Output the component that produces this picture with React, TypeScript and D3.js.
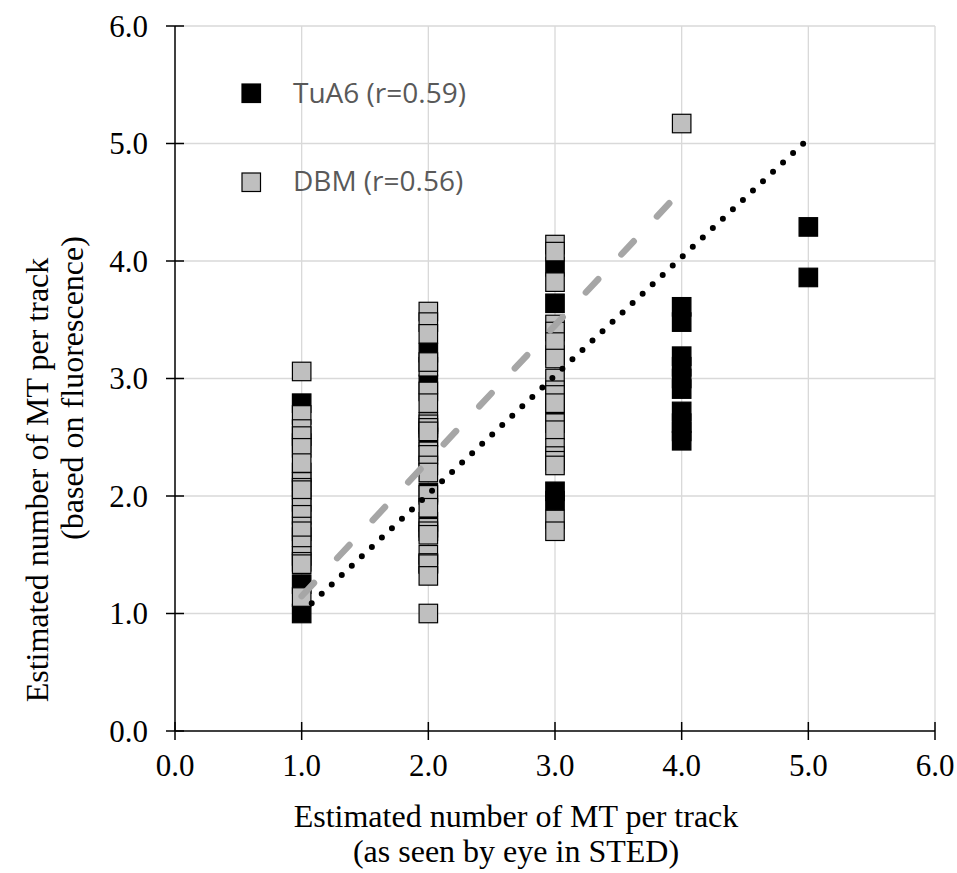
import React from "react";
import * as d3 from "d3";

// x positions (number of MT seen by eye)
const columns = [1, 2, 3, 4, 5];

// TuA6 values per column (black markers)
const tua6Values = [
  [2.79, 2.45, 2.2, 1.95, 1.65, 1.25, 1.0],
  [3.22, 2.95, 2.5, 2.03, 1.78],
  [3.95, 3.64, 3.2, 2.7, 2.04, 1.96],
  [3.61, 3.48, 3.19, 3.1, 3.0, 2.91, 2.72, 2.62, 2.55, 2.47],
  [4.29, 3.86],
];

// DBM values per column (grey markers)
const dbmValues = [
  [3.06, 2.69, 2.57, 2.51, 2.41, 2.28, 2.12, 2.07, 2.05, 1.9, 1.84, 1.74, 1.7, 1.58, 1.49, 1.44, 1.42, 1.14],
  [3.57, 3.48, 3.38, 3.1, 3.14, 2.89, 2.79, 2.63, 2.61, 2.58, 2.55, 2.38, 2.35, 2.26, 2.2, 2.01, 1.9, 1.73, 1.7, 1.67, 1.5, 1.43, 1.42, 1.32, 1.0],
  [4.14, 4.08, 3.82, 3.46, 3.4, 3.31, 3.17, 3.0, 2.9, 2.86, 2.79, 2.62, 2.56, 2.41, 2.34, 2.3, 2.26, 1.8, 1.7],
  [5.17],
  [],
];

// trend lines, start and end points [x, y]
const tua6Trend = [[1, 1.008], [5, 5.04]];
const dbmTrend = [[1, 1.148], [4, 4.604]];

const ticks = [0, 1, 2, 3, 4, 5, 6];
const legendLabels = ["TuA6 (r=0.59)", "DBM (r=0.56)"];

export default function App() {
  const width = 957;
  const height = 873;
  const left = 175;
  const right = 935;
  const top = 26;
  const bottom = 731;
  const size = 18.5;

  const x = d3.scaleLinear().domain([0, 6]).range([left, right]);
  const y = d3.scaleLinear().domain([0, 6]).range([bottom, top]);
  const fmt = d3.format(".1f");

  const line = d3.line<number[]>()
    .x(d => x(d[0]))
    .y(d => y(d[1]));

  const points = (values: number[][]) =>
    values.flatMap((col, i) => col.map(v => [columns[i], v]));

  const serif = "'Liberation Serif', 'Times New Roman', serif";

  return (
    <svg width={width} height={height} style={{ position: "absolute", left: 0, top: 0 }}>
      <rect width={width} height={height} fill="white" />

      {/* grid */}
      <g stroke="#d9d9d9" strokeWidth={1.3}>
        {ticks.slice(1).map(t => (
          <line key={"v" + t} x1={x(t)} x2={x(t)} y1={top} y2={bottom} />
        ))}
        {ticks.slice(1).map(t => (
          <line key={"h" + t} x1={left} x2={right} y1={y(t)} y2={y(t)} />
        ))}
      </g>

      {/* axes */}
      <g stroke="black" strokeWidth={1.5}>
        <line x1={left} x2={right} y1={bottom} y2={bottom} />
        <line x1={left} x2={left} y1={top} y2={bottom} />
        {ticks.map(t => (
          <line key={"xt" + t} x1={x(t)} x2={x(t)} y1={bottom - 9} y2={bottom + 9} />
        ))}
        {ticks.map(t => (
          <line key={"yt" + t} x1={left - 9} x2={left + 9} y1={y(t)} y2={y(t)} />
        ))}
      </g>

      {/* tick labels */}
      <g fontFamily={serif} fontSize={31} fill="black">
        {ticks.map(t => (
          <text key={"xl" + t} x={x(t)} y={776} textAnchor="middle">{fmt(t)}</text>
        ))}
        {ticks.map(t => (
          <text key={"yl" + t} x={148} y={y(t) + 10.5} textAnchor="end">{fmt(t)}</text>
        ))}
      </g>

      {/* axis titles */}
      <g fontFamily={serif} fontSize={32} fill="black" textAnchor="middle">
        <text x={516} y={827}>Estimated number of MT per track</text>
        <text x={516} y={862}>(as seen by eye in STED)</text>
        <text transform={`translate(48, 480) rotate(-90)`}>Estimated number of MT per track</text>
        <text transform={`translate(83, 388) rotate(-90)`}>(based on fluorescence)</text>
      </g>

      {/* TuA6 markers */}
      <g fill="black">
        {points(tua6Values).map((d, i) => (
          <rect key={i} x={x(d[0]) - size / 2} y={y(d[1]) - size / 2} width={size} height={size} stroke="black" strokeWidth={1.2} />
        ))}
      </g>

      {/* DBM markers */}
      <g fill="#bfbfbf" stroke="black" strokeWidth={1.2}>
        {points(dbmValues).map((d, i) => (
          <rect key={i} x={x(d[0]) - size / 2} y={y(d[1]) - size / 2} width={size} height={size} />
        ))}
      </g>

      {/* trend lines */}
      <path d={line(dbmTrend) ?? ""} fill="none" stroke="#a6a6a6" strokeWidth={6.5}
        strokeLinecap="round" strokeDasharray="18 34" />
      <path d={line(tua6Trend) ?? ""} fill="none" stroke="black" strokeWidth={6}
        strokeLinecap="round" strokeDasharray="0 13.73" />

      {/* legend */}
      <g fontFamily="'Open Sans', sans-serif" fontSize={28} fill="#595959">
        <rect x={242} y={84} width={size} height={size} fill="black" stroke="black" strokeWidth={1.2} />
        <text x={293} y={103}>{legendLabels[0]}</text>
        <rect x={242} y={173} width={size} height={size} fill="#bfbfbf" stroke="black" strokeWidth={1.2} />
        <text x={293} y={191}>{legendLabels[1]}</text>
      </g>
    </svg>
  );
}
